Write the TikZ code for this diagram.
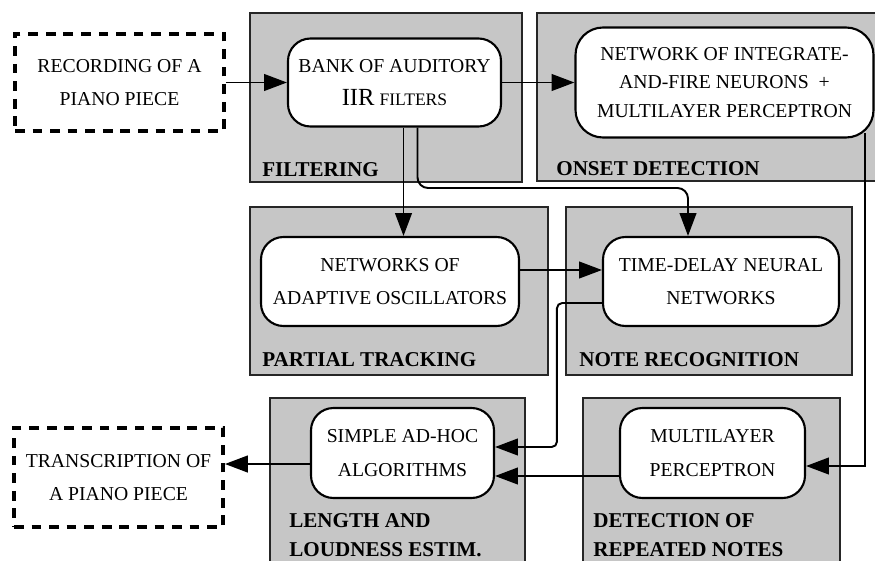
\documentclass[tikz,border=0pt]{standalone}
\usepackage{fontspec}
\setmainfont{Liberation Serif}
\usetikzlibrary{arrows.meta}

\tikzset{
    pannello/.style={draw=black!85, fill=gray!45, line width=0.8pt},
    blocco/.style={draw, fill=white, line width=1.2pt, rounded corners=0.45cm, align=center, inner sep=0pt, font=\fontsize{11.2}{19}\selectfont},
    esterno/.style={draw, line width=2.2pt, dash pattern=on 5.5pt off 4.5pt, align=center, inner sep=0pt, font=\fontsize{11.2}{19}\selectfont},
    etichetta/.style={anchor=north west, inner sep=0pt, align=left, font=\fontsize{12}{16.5}\selectfont\bfseries},
    freccia/.style={-{Triangle[length=13pt,width=9.5pt]}, line width=1.1pt}
}

\begin{document}
\begin{tikzpicture}
        \useasboundingbox (0,0) rectangle (17.5,-11.2);

        % Pannelli grigi
        \draw[pannello] (5.0,-0.26) rectangle (10.44,-3.64);
        \draw[pannello] (10.74,-0.26) rectangle (17.8,-3.62);
        \draw[pannello] (5.0,-4.14) rectangle (10.96,-7.5);
        \draw[pannello] (11.32,-4.14) rectangle (17.04,-7.5);
        \draw[pannello] (5.4,-7.96) rectangle (10.5,-11.5);
        \draw[pannello] (11.66,-7.96) rectangle (16.8,-11.5);

        % Titoli dei pannelli
        \node[etichetta] (lblfilt) at (5.24,-3.24) {FILTERING};
        \node[etichetta] (lblonset) at (11.12,-3.22) {ONSET DETECTION};
        \node[etichetta] (lblpart) at (5.24,-7.04) {PARTIAL TRACKING};
        \node[etichetta] (lblnote) at (11.58,-7.04) {NOTE RECOGNITION};
        \node[etichetta] (lbllen) at (5.78,-10.26) {LENGTH AND\\LOUDNESS ESTIM.};
        \node[etichetta] (lblrep) at (11.86,-10.26) {DETECTION OF\\REPEATED NOTES};

        % Blocchi
        \node[esterno, minimum width=4.18cm, minimum height=1.94cm] (rec) at (2.39,-1.65) {RECORDING OF A\\PIANO PIECE};
        \node[blocco, minimum width=4.26cm, minimum height=1.76cm] (bank) at (7.89,-1.65) {BANK OF AUDITORY\\{\fontsize{14}{19}\selectfont IIR} {\fontsize{10}{19}\selectfont FILTERS}};
        \node[blocco, minimum width=5.96cm, minimum height=2.2cm, rounded corners=0.55cm, font=\fontsize{11.2}{16}\selectfont] (rete) at (14.49,-1.65) {NETWORK OF INTEGRATE-\\AND-FIRE NEURONS \ +\\MULTILAYER PERCEPTRON};
        \node[blocco, minimum width=5.16cm, minimum height=1.78cm] (osc) at (7.8,-5.63) {NETWORKS OF\\ADAPTIVE OSCILLATORS};
        \node[blocco, minimum width=4.72cm, minimum height=1.78cm] (tdnn) at (14.42,-5.63) {TIME-DELAY NEURAL\\NETWORKS};
        \node[blocco, minimum width=3.66cm, minimum height=1.8cm] (simple) at (8.05,-9.06) {SIMPLE AD-HOC\\ALGORITHMS};
        \node[blocco, minimum width=3.7cm, minimum height=1.8cm] (mlp) at (14.25,-9.06) {MULTILAYER\\PERCEPTRON};
        \node[esterno, minimum width=4.18cm, minimum height=1.98cm] (trans) at (2.37,-9.55) {TRANSCRIPTION OF\\A PIANO PIECE};

        % Collegamenti
        \coordinate (gomito) at (13.76,-3.76);
        \draw[freccia] (rec) -- (bank);
        \draw[freccia] (bank) -- (rete);
        \draw[freccia] ([xshift=0.18cm]bank.south) -- ([xshift=0.18cm]bank.south |- osc.north);
        \draw[freccia, rounded corners=6pt] ([xshift=0.46cm]bank.south) |- (gomito) -- (gomito |- tdnn.north);
        \draw[freccia] ([yshift=0.23cm]osc.east) -- ([yshift=0.23cm]osc.east -| tdnn.west);
        \draw[freccia, rounded corners=3pt] ([yshift=-0.43cm]tdnn.west) -- ++(-0.9,0) |- ([yshift=0.12cm]simple.east);
        \draw[freccia] ([xshift=2.81cm,yshift=0.11cm]rete.south) |- ([yshift=-0.26cm]mlp.east);
        \draw[freccia] ([yshift=-0.46cm]mlp.west) -- ([yshift=-0.46cm]simple.east);
        \draw[freccia] ([yshift=-0.22cm]simple.west) -- ([yshift=-0.22cm]simple.west -| trans.east);
    \end{tikzpicture}
\end{document}
